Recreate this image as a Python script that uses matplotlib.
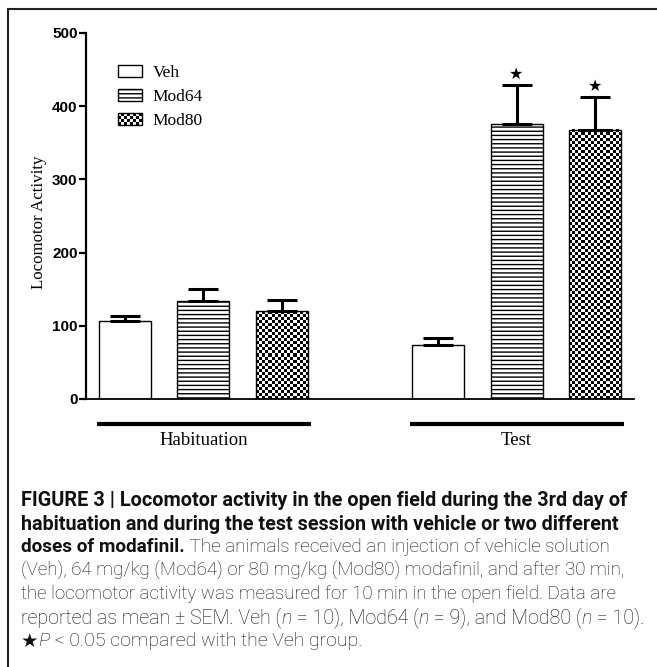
import numpy as np
import matplotlib
matplotlib.use('Agg')
import matplotlib.pyplot as plt
from matplotlib.patches import Patch, Rectangle
from matplotlib.legend_handler import HandlerBase
from matplotlib.lines import Line2D

# ===========================
# Data
# ===========================
groups = ['Habituation', 'Test']
treatments = ['Veh', 'Mod64', 'Mod80']
veh_mean = [106, 74]
veh_sem = [8, 10]
mod64_mean = [134, 376]
mod64_sem = [16, 53]
mod80_mean = [120, 368]
mod80_sem = [15, 45]
mod64_sig = [False, True]
mod80_sig = [False, True]
y_ticks = [0, 100, 200, 300, 400, 500]

caption_lines = [
    [("FIGURE 3 | Locomotor activity in the open field during the 3rd day of", 'b')],
    [("habituation and during the test session with vehicle or two different", 'b')],
    [("doses of modafinil.", 'b'), (" The animals received an injection of vehicle solution", 'r')],
    [("(Veh), 64 mg/kg (Mod64) or 80 mg/kg (Mod80) modafinil, and after 30 min,", 'r')],
    [("the locomotor activity was measured for 10 min in the open field. Data are", 'r')],
    [("reported as mean \u00b1 SEM. Veh (", 'r'), ("n", 'i'), (" = 10), Mod64 (", 'r'), ("n", 'i'),
     (" = 9), and Mod80 (", 'r'), ("n", 'i'), (" = 10).", 'r')],
    [("\u2605", 's'), ("P", 'i'), (" < 0.05 compared with the Veh group.", 'r')],
]

W, H = 657, 667
fig = plt.figure(figsize=(W / 100, H / 100), dpi=100)

SERIF = 'Liberation Serif'
SANS = 'Liberation Sans'

# axes placed in pixel terms
ax_l, ax_r, ax_t, ax_b = 86, 634, 33, 399
ax = fig.add_axes([ax_l / W, 1 - ax_b / H, (ax_r - ax_l) / W, (ax_b - ax_t) / H])
ax.set_xlim(-0.5, 6.5)
ax.set_ylim(0, 500)

bw = 0.665
group_x = np.array([0, 4])
x_veh = group_x + 0
x_64 = group_x + 1
x_80 = group_x + 2

ax.bar(x_veh, veh_mean, bw, facecolor='white', edgecolor='black', linewidth=1, zorder=2)
ax.bar(x_64, mod64_mean, bw, facecolor='white', edgecolor='black', linewidth=1,
       hatch='----', zorder=2)
bars80 = ax.bar(x_80, mod80_mean, bw, facecolor='none', edgecolor='black', linewidth=1, zorder=2)

# checkerboard fill for Mod80
cell = 3.0
for p in bars80:
    x0, w, h = p.get_x(), p.get_width(), p.get_height()
    p0 = ax.transData.transform((x0, 0))
    p1 = ax.transData.transform((x0 + w, h))
    nx = max(1, int(round((p1[0] - p0[0]) / cell)))
    ny = max(1, int(round((p1[1] - p0[1]) / cell)))
    board = np.indices((ny, nx)).sum(0) % 2
    ax.imshow(board, cmap='gray', extent=(x0, x0 + w, 0, h), origin='lower',
              interpolation='nearest', aspect='auto', clip_path=p, zorder=1)
ax.set_xlim(-0.5, 6.5)
ax.set_ylim(0, 500)

for xs, m, s in [(x_veh, veh_mean, veh_sem), (x_64, mod64_mean, mod64_sem), (x_80, mod80_mean, mod80_sem)]:
    ax.errorbar(xs, m, yerr=[np.zeros(len(s)), s], fmt='none', ecolor='black',
                elinewidth=2.2, capsize=11, capthick=2.2, zorder=3)

for xs, m, s, sig in [(x_64, mod64_mean, mod64_sem, mod64_sig), (x_80, mod80_mean, mod80_sem, mod80_sig)]:
    for xi, mi, si, f in zip(xs, m, s, sig):
        if f:
            ax.annotate('\u2605', (xi, mi + si), xytext=(0, 2), textcoords='offset points',
                        ha='center', va='bottom', fontsize=11.5, family='DejaVu Sans')

# axes styling
for sp in ['top', 'right']:
    ax.spines[sp].set_visible(False)
ax.spines['left'].set_linewidth(1.6)
ax.spines['bottom'].set_linewidth(1.3)
ax.set_xticks([])
ax.set_yticks(y_ticks)
ax.tick_params(axis='y', length=5, width=1.6, pad=1)
for lab in ax.get_yticklabels():
    lab.set_fontfamily(SANS)
    lab.set_fontweight('bold')
    lab.set_fontsize(11)

fig.text(39 / W, 1 - 222 / H, 'Locomotor Activity', rotation=90, ha='center', va='center',
         family=SERIF, fontsize=12.2)

# group bars under the axis
for gx, name in zip(group_x, groups):
    ax.plot([gx - 0.36, gx + 2.37], [-0.068, -0.068], color='black', lw=3,
            transform=ax.get_xaxis_transform(), clip_on=False, solid_capstyle='butt')
    ax.text(gx + 1, -0.113, name, transform=ax.get_xaxis_transform(), ha='center', va='center',
            family=SERIF, fontsize=13.5)


class CheckerHandler(HandlerBase):
    def create_artists(self, legend, orig_handle, xdescent, ydescent, width, height, fontsize, trans):
        arts = []
        nx, ny = 8, 4
        cw, ch = width / nx, height / ny
        for i in range(nx):
            for j in range(ny):
                if (i + j) % 2 == 0:
                    arts.append(Rectangle((-xdescent + i * cw, -ydescent + j * ch), cw, ch,
                                          facecolor='black', edgecolor='none', transform=trans))
        arts.append(Rectangle((-xdescent, -ydescent), width, height, facecolor='none',
                              edgecolor='black', lw=1, transform=trans))
        return arts


h_veh = Patch(facecolor='white', edgecolor='black', lw=1)
h_64 = Patch(facecolor='white', edgecolor='black', lw=1, hatch='----')
h_80 = Patch(facecolor='white', edgecolor='black')
ax.legend([h_veh, h_64, h_80], treatments, handler_map={h_80: CheckerHandler()},
          loc='upper left', bbox_to_anchor=((118 - ax_l) / (ax_r - ax_l), 1 - (65 - ax_t) / (ax_b - ax_t)),
          frameon=False, prop={'family': SERIF, 'size': 12.5}, handlelength=1.4, handleheight=0.68,
          handletextpad=0.6, labelspacing=0.45, borderaxespad=0, borderpad=0)

# frame around the figure (top and left only, rest is cropped)
fig.add_artist(Line2D([8 / W, 1], [1 - 9 / H, 1 - 9 / H], color='#222222', lw=1.5, transform=fig.transFigure))
fig.add_artist(Line2D([8 / W, 8 / W], [0, 1 - 9 / H], color='#222222', lw=1.5, transform=fig.transFigure))

# caption, laid out run by run; each line sized to its width in the reference
CAP = ['Roboto', 'DejaVu Sans']
styles = {
    'b': dict(family=CAP, weight='bold'),
    'r': dict(family=CAP, weight='light'),
    'i': dict(family=CAP, weight='light', style='italic'),
    's': dict(family=['DejaVu Sans'], weight='normal'),
}
cap_size = 14.3
cap_left = 21
line_y = [500, 524, 547, 571, 594, 618, 641]
line_right = [629, 623, 610, 622, 616, 645, 362]
renderer = fig.canvas.get_renderer()


def run_widths(runs, size):
    ws = []
    for txt, st in runs:
        t = fig.text(0, 0, txt, fontsize=size, **styles[st])
        ws.append(t.get_window_extent(renderer).width)
        t.remove()
    return ws


for runs, yy, xr in zip(caption_lines, line_y, line_right):
    natural = sum(run_widths(runs, cap_size))
    size = cap_size * (xr - cap_left) / natural
    size = min(max(size, cap_size * 0.94), cap_size * 1.04)
    x = cap_left
    for (txt, st), w in zip(runs, run_widths(runs, size)):
        fig.text(x / W, 1 - yy / H, txt, ha='left', va='center', fontsize=size,
                 color='#111111', **styles[st])
        x += w

fig.savefig('out.png', dpi=100)
